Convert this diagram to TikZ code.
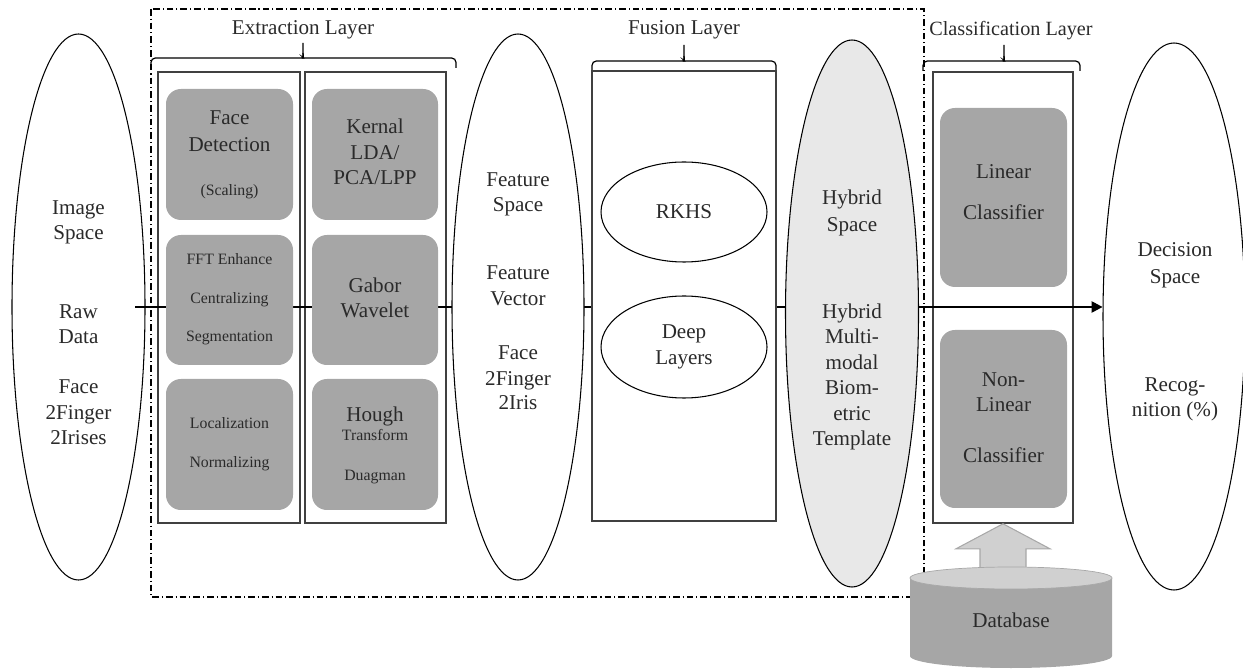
\documentclass[tikz,border=0pt]{standalone}
\usepackage{fontspec}
\setmainfont{Liberation Serif}
\usetikzlibrary{shapes.geometric,arrows.meta}
\def\PX{0.02cm}
\definecolor{boxgray}{HTML}{A6A6A6}
\definecolor{hybfill}{HTML}{E8E8E8}
\definecolor{dbtop}{HTML}{D0D0D0}
\definecolor{dbedge}{HTML}{A8A8A8}
\definecolor{ink}{HTML}{2A2A2A}
\definecolor{frame}{HTML}{404040}
\begin{document}
\begin{tikzpicture}[x=0.02cm,y=-0.02cm,
  big/.style={anchor=base,inner sep=0,text=ink,font=\fontsize{12}{14}\selectfont},
  small/.style={anchor=base,inner sep=0,text=ink,font=\fontsize{9}{11}\selectfont},
  space/.style={ellipse,draw=black,line width=0.6pt,fill=white,inner sep=0},
  col/.style={rectangle,draw=frame,line width=0.9pt,inner sep=0},
  gbox/.style={rectangle,rounded corners=8.5pt,fill=boxgray,inner sep=0},
  layerbox/.style={draw=black,line width=0.6pt,dash pattern=on 3.8pt off 1.7pt on 0.6pt off 1.7pt},
  brace/.style={draw=black,line width=0.7pt,rounded corners=2.5pt},
]
\useasboundingbox (0,0) rectangle (1243,671);

% dash-dotted frame around extraction and fusion
\draw[layerbox] (151,9) rectangle (924,597);

% input space
\node[space,minimum width=133*\PX,minimum height=546*\PX] (img) at (78.5,307) {};

% layer columns
\node[col,minimum width=142*\PX,minimum height=451*\PX] (ex1) at (229,297.5) {};
\node[col,minimum width=141*\PX,minimum height=451*\PX] (ex2) at (375.5,297.5) {};
\node[col,minimum width=140*\PX,minimum height=451*\PX] (cls) at (1003,297.5) {};

% output space
\node[space,minimum width=142*\PX,minimum height=547*\PX] (dec) at (1174,316.5) {};

% main flow
\coordinate (start) at (135,307);
\draw[line width=0.6pt,-{Triangle[length=6.2pt,width=6.5pt]}] (start) -- (start -| dec.west);

% extraction blocks
\node[gbox,minimum width=127*\PX,minimum height=131*\PX] (fd)  at (229.5,154.5) {};
\node[gbox,minimum width=127*\PX,minimum height=130*\PX] (fft) at (229.5,300) {};
\node[gbox,minimum width=127*\PX,minimum height=131*\PX] (loc) at (229.5,444.5) {};
\node[gbox,minimum width=126*\PX,minimum height=131*\PX] (ker) at (375,154.5) {};
\node[gbox,minimum width=126*\PX,minimum height=130*\PX] (gab) at (375,300) {};
\node[gbox,minimum width=126*\PX,minimum height=131*\PX] (hou) at (375,444.5) {};

% feature space
\node[space,minimum width=132*\PX,minimum height=546*\PX] (feat) at (518,307) {};

% fusion
\node[col,fill=white,minimum width=184*\PX,minimum height=450*\PX] (fus) at (684,296) {};
\node[space,minimum width=166*\PX,minimum height=100*\PX] (rkhs) at (684,212) {};
\node[space,minimum width=166*\PX,minimum height=102*\PX] (deep) at (684,347) {};

% hybrid space
\node[space,fill=hybfill,minimum width=133*\PX,minimum height=547*\PX] (hyb) at (852,313.5) {};

% classifiers
\node[gbox,minimum width=127*\PX,minimum height=179*\PX] (lin) at (1003.5,197.5) {};
\node[gbox,minimum width=127*\PX,minimum height=178*\PX] (nlin) at (1003.5,419) {};

% database feeding the classifiers
\draw[fill=dbtop,draw=dbedge,line width=0.6pt] (cls.south) -- ++(47,25) -- ++(-24,0) -- ++(0,20)
  -- ++(-46,0) -- ++(0,-20) -- ++(-24,0) -- cycle;
\fill[boxgray] (910,578) -- (910,656) arc[start angle=180,end angle=0,x radius=101,y radius=12]
  -- (1112,578) -- cycle;
\draw[fill=dbtop,draw=dbedge,line width=0.4pt] (1011,578) ellipse [x radius=101,y radius=11];
\node[big] (db) at (1011,627) {Database};

% braces and layer titles
\foreach \a/\m/\b/\lo/\hi/\tp in {151/303/456/68/58/43, 592/684/776/70/61/45, 923/1004/1080/71/61/45}{
  \draw[brace] (\a,\lo) -- (\a,\hi) -- (\m-4,\hi) .. controls (\m-1,\hi) and (\m,\hi-2) .. (\m,\hi-5) -- (\m,\tp);
  \draw[brace] (\b,\lo) -- (\b,\hi) -- (\m+4,\hi) .. controls (\m+1,\hi) and (\m,\hi-2) .. (\m,\hi-5);
}
\node[big] (t-ext) at (303,35) {Extraction Layer};
\node[big] (t-fus) at (684,35) {Fusion Layer};
\node[big,font=\fontsize{11.5}{14}\selectfont] (t-cls) at (1011,36) {Classification Layer};

% texts of the spaces
\foreach \t/\y [count=\i] in {Image/208,Space/233,Raw/312,Data/337,Face/387,2Finger/413,2Irises/438}
  \node[big] (img-\i) at (78.5,\y+7) {\t};
\foreach \t/\y [count=\i] in {Feature/180,Space/205,Feature/273,Vector/299,Face/353,2Finger/379,2Iris/403}
  \node[big] (feat-\i) at (518,\y+7) {\t};
\foreach \t/\y [count=\i] in {Hybrid/198,Space/225,Hybrid/312,Multi-/337,modal/363,Biom-/388,etric/414,Template/439}
  \node[big] (hyb-\i) at (852,\y+7) {\t};
\node[big] (dec-1) at (1175,257) {Decision};
\node[big] (dec-2) at (1175,284) {Space};
\node[big] (dec-3) at (1175,392) {Recog-};
\node[big] (dec-4) at (1175,417) {nition (\%)};

% texts of the extraction blocks
\node[big] (fd-1) at (229.5,125) {Face};
\node[big] (fd-2) at (229.5,152) {Detection};
\node[small] (fd-3) at (229.5,196) {(Scaling)};
\node[small] (fft-1) at (229.5,265) {FFT Enhance};
\node[small] (fft-2) at (229.5,304) {Centralizing};
\node[small] (fft-3) at (229.5,342) {Segmentation};
\node[small] (loc-1) at (229.5,429) {Localization};
\node[small] (loc-2) at (229.5,468) {Normalizing};
\node[big] (ker-1) at (375,134) {Kernal};
\node[big] (ker-2) at (375,160) {LDA/};
\node[big] (ker-3) at (375,185) {PCA/LPP};
\node[big] (gab-1) at (375,293) {Gabor};
\node[big] (gab-2) at (375,318) {Wavelet};
\node[big] (hou-1) at (375,422) {Hough};
\node[small] (hou-2) at (375,441) {Transform};
\node[small] (hou-3) at (375,480) {Duagman};

% texts of the fusion layer
\node[big] (rkhs-t) at (684,219) {RKHS};
\node[big] (deep-1) at (684,339) {Deep};
\node[big] (deep-2) at (684,365) {Layers};

% texts of the classifiers
\node[big] (lin-1) at (1003.5,179) {Linear};
\node[big] (lin-2) at (1003.5,220) {Classifier};
\node[big] (nlin-1) at (1003.5,387) {Non-};
\node[big] (nlin-2) at (1003.5,412) {Linear};
\node[big] (nlin-3) at (1003.5,463) {Classifier};
\end{tikzpicture}
\end{document}
